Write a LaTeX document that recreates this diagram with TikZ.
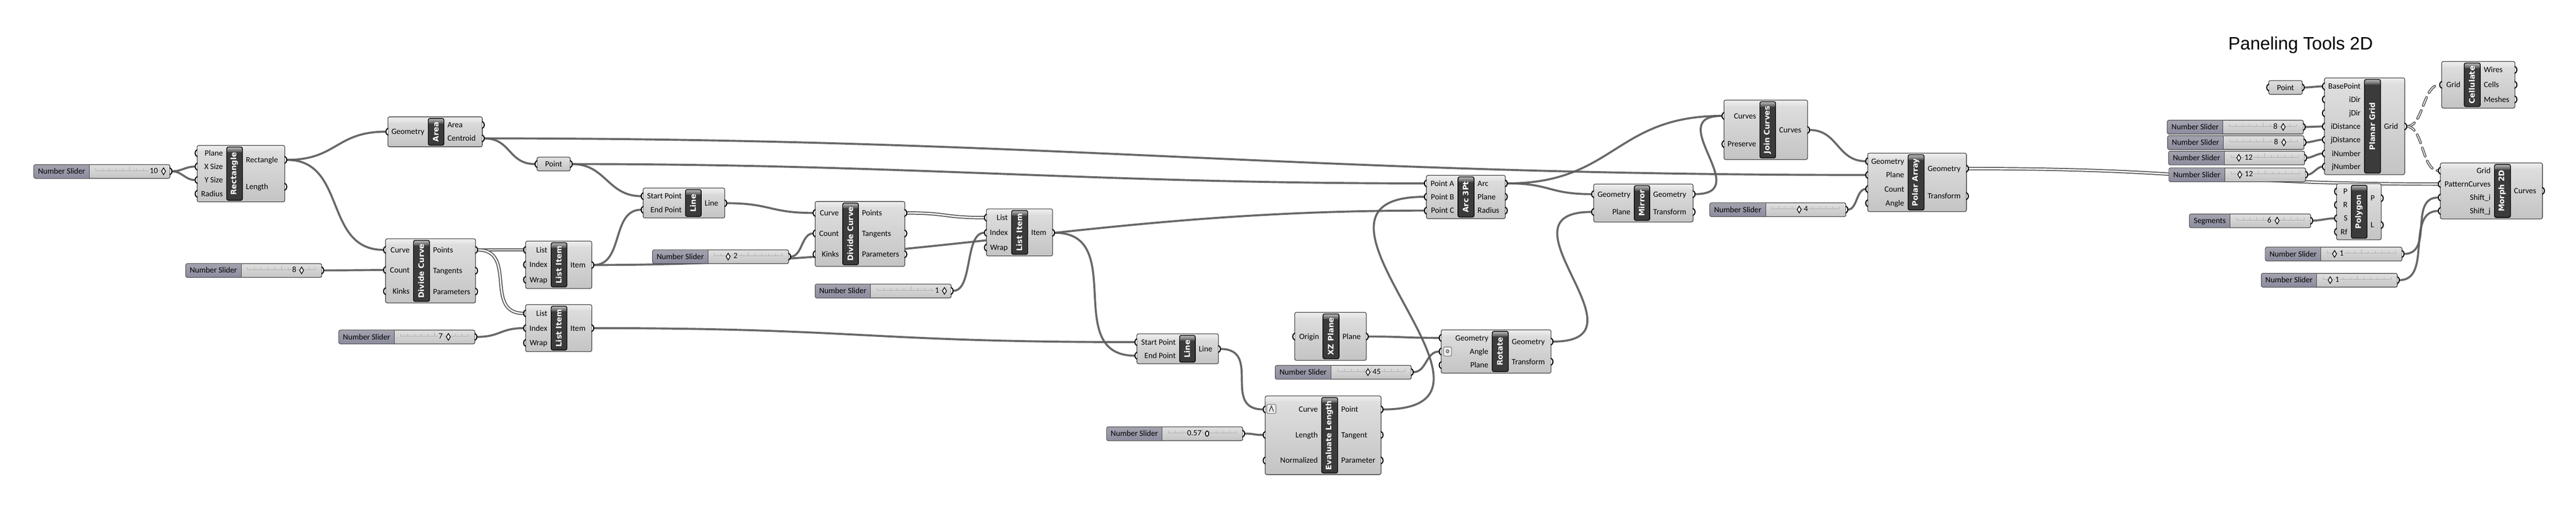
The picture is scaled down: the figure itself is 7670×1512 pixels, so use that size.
\documentclass[tikz,border=0pt]{standalone}
\usepackage{fontspec}
\setmainfont{Carlito}
\newfontfamily\ghbarfont{DejaVu Sans}
\newfontfamily\ghtitlefont{Liberation Sans}
\usetikzlibrary{shadings}
\pgfdeclarelayer{paper}
\pgfdeclarelayer{wires}
\pgfsetlayers{paper,wires,main}
\definecolor{gbot}{HTML}{C4C4C4}
\definecolor{gtop}{HTML}{E0E0E0}
\definecolor{gline}{HTML}{454545}
\definecolor{gwire}{HTML}{5C5C5C}
\definecolor{gbar}{HTML}{3B3B3B}
\definecolor{gpurtop}{HTML}{A2A2AE}
\definecolor{gpurbot}{HTML}{8C8CA0}
\definecolor{gval}{HTML}{D7D7D7}
\tikzset{
  ghbox/.style={draw=gline,line width=1pt,rounded corners=2.5pt,top color=gtop,bottom color=gbot,inner sep=0pt,outer sep=0pt},
  ghbar/.style={draw=black,line width=1pt,rounded corners=2.5pt,fill=gbar,inner sep=0pt,outer sep=0pt},
  ghbartext/.style={text=white,font=\ghbarfont\bfseries\fontsize{11.25}{12}\selectfont,rotate=90,inner sep=0pt},
  ghtext/.style={text=black,font=\fontsize{12}{13}\selectfont,inner sep=0pt},
  ghport/.style={draw=black,line width=1.6pt,fill=white,line cap=round},
  wire/.style={draw=gwire,line width=3pt,opacity=.92},
  listwire/.style={draw=gwire,line width=1.5pt,double=white,double distance=2pt},
  ghrail/.style={draw=black!32,line width=.5pt},
  ghgrip/.style={draw=black,line width=1pt,fill=white},
}
\newcommand\ghcomp[8]{%
  \def\cn{#1}\def\xa{#2}\def\xb{#4}\def\ba{#6}\def\bb{#7}%
  \node[ghbox,minimum width={(#4-#2)*0.5pt},minimum height={(#5-#3)*0.5pt}] (#1) at ({(#2+#4)/2},{(#3+#5)/2}) {};
  \shade[top color=white!93!black,bottom color=white!88!black,rounded corners=2pt]
     (#2+1.5,#3+17) -- (#2+1.5,#3+1.5) -- (#4-1.5,#3+1.5) [sharp corners] -- (#4-1.5,#3+17) -- cycle;
  \node[ghbar,minimum width={(#7-#6)*0.5pt},minimum height={(#5-#3-9)*0.5pt}] (#1-bar) at ({(#6+#7)/2},{(#3+#5)/2}) {};
  \shade[top color=black!30,bottom color=black!68,rounded corners=2pt]
     (#6+1.5,#3+20) -- (#6+1.5,#3+6) -- (#7-1.5,#3+6) [sharp corners] -- (#7-1.5,#3+20) -- cycle;
  \node[ghbartext] (#1-title) at ({(#6+#7)/2-1},{(#3+#5)/2}) {#8};
}
\newcommand\ghleft[2]{\draw[ghport] (#1,{#2-10}) .. controls (#1-8,{#2-7}) and (#1-8,{#2+7}) .. (#1,{#2+10});}
\newcommand\ghright[2]{\draw[ghport] (#1,{#2-10}) .. controls (#1+8,{#2-7}) and (#1+8,{#2+7}) .. (#1,{#2+10});}
\newcommand\inp[3]{%
  \ghleft{\xa}{#2}
  \coordinate (\cn-#1) at (\xa-6,#2);
  \node[ghtext,anchor=base east] (\cn-#1-l) at (\ba-11,#2+8) {#3};
}
\newcommand\outp[3]{%
  \ghright{\xb}{#2}
  \coordinate (\cn-#1) at (\xb+6,#2);
  \node[ghtext,anchor=base west] (\cn-#1-l) at (\bb+10,#2+8) {#3};
}
\newcommand\ghparam[6]{% name x0 y0 x1 y1 label
  \node[ghbox,minimum width={(#4-#2)*0.5pt},minimum height={(#5-#3)*0.5pt}] (#1) at ({(#2+#4)/2},{(#3+#5)/2}) {};
  \ghleft{#2}{(#3+#5)/2}
  \ghright{#4}{(#3+#5)/2}
  \coordinate (#1-in) at (#2-6,{(#3+#5)/2});
  \coordinate (#1-out) at (#4+6,{(#3+#5)/2});
  \node[ghtext,anchor=base] (#1-l) at ({(#2+#4)/2},{(#3+#5)/2+8}) {#6};
}
\newcommand\ghslider[6]{% name x0 y0 x1 split label
  \def\cn{#1}\def\sy{#3}%
  \node[ghbox,minimum width={(#4-#2)*0.5pt},minimum height=20.5pt] (#1) at ({(#2+#4)/2},{#3+20.5}) {};
  \shade[top color=gpurtop,bottom color=gpurbot,rounded corners=2pt]
     (#5,#3+40) -- (#2+1,#3+40) -- (#2+1,#3+1) [sharp corners] -- (#5,#3+1) -- cycle;
  \draw[draw=gline,line width=.75pt] (#5,#3) -- (#5,#3+41);
  \node[ghtext,anchor=base] (#1-l) at ({(#2+#5)/2},{#3+28}) {#6};
  \draw[ghrail] (#5+19,#3+18) -- (#4-19,#3+18);
  \foreach \i in {0,...,10} {\draw[ghrail] ({#5+19+\i*(#4-#5-38)/10},#3+18) -- ++(0,{\i==5?-12:-7});}
  \ghright{#4}{#3+20}
  \coordinate (#1-out) at (#4+6,#3+20);
}
\newcommand\ghval[3]{% value xcentre gripx
  \node[ghtext,anchor=base,fill=gval,inner sep=.5pt] (\cn-v) at (#2,\sy+26) {#1};
  \draw[ghgrip] (#3-6,\sy+20) -- (#3,\sy+10) -- (#3+6,\sy+20) -- (#3,\sy+30) -- cycle;
}
\newcommand\ghvalo[3]{%
  \node[ghtext,anchor=base,fill=gval,inner sep=.5pt] (\cn-v) at (#2,\sy+26) {#1};
  \draw[ghgrip,line width=1.2pt] (#3,\sy+20) ellipse [x radius=5,y radius=8];
}
\newcommand\ghwire[3]{\draw[wire] (#1) .. controls +(#3,0) and +(-#3,0) .. (#2);}
\newcommand\ghlist[3]{\draw[listwire] (#1) .. controls +(#3,0) and +(-#3,0) .. (#2);}
\newcommand\ghdash[3]{%
  \draw[draw=gwire,line width=4pt,line cap=round,dash pattern=on 13pt off 8pt] (#1) .. controls +(#3,0) and +(-#3,0) .. (#2);
  \draw[draw=white,line width=1.2pt,line cap=round,dash pattern=on 13pt off 8pt] (#1) .. controls +(#3,0) and +(-#3,0) .. (#2);
}
\begin{document}
\begin{tikzpicture}[x=0.5pt,y=-0.5pt]
\begin{pgfonlayer}{paper}
\fill[white] (0,0) rectangle (7670,1512);
\end{pgfonlayer}
\useasboundingbox (0,0) rectangle (7670,1512);

\node[font=\ghtitlefont\fontsize{26.7}{28}\selectfont,inner sep=0pt,anchor=base] (title) at (6850,148) {Paneling Tools 2D};

% components
\ghcomp{rect}{587}{433}{848}{601}{675}{722}{Rectangle}
\inp{plane}{456}{Plane}\inp{xs}{496}{X Size}\inp{ys}{536}{Y Size}\inp{rad}{577}{Radius}
\outp{rect}{476}{Rectangle}\outp{len}{556}{Length}

\ghcomp{area}{1155}{348}{1436}{437}{1275}{1322}{Area}
\inp{geo}{392}{Geometry}\outp{area}{372}{Area}\outp{cen}{412}{Centroid}

\ghcomp{dca}{1148}{711}{1416}{902}{1231}{1279}{Divide Curve}
\inp{crv}{744}{Curve}\inp{cnt}{804}{Count}\inp{knk}{867}{Kinks}
\outp{pts}{744}{Points}\outp{tan}{806}{Tangents}\outp{par}{868}{Parameters}

\ghcomp{lia}{1565}{718}{1762}{859}{1641}{1688}{List Item}
\inp{list}{744}{List}\inp{idx}{788}{Index}\inp{wrap}{833}{Wrap}\outp{item}{789}{Item}

\ghcomp{lib}{1565}{907}{1762}{1047}{1641}{1688}{List Item}
\inp{list}{933}{List}\inp{idx}{977}{Index}\inp{wrap}{1021}{Wrap}\outp{item}{977}{Item}

\ghcomp{lna}{1915}{560}{2158}{649}{2041}{2088}{Line}
\inp{s}{584}{Start Point}\inp{e}{624.5}{End Point}\outp{l}{605}{Line}

\ghcomp{dcb}{2427}{600}{2694}{793}{2509}{2556}{Divide Curve}
\inp{crv}{634}{Curve}\inp{cnt}{695}{Count}\inp{knk}{757}{Kinks}
\outp{pts}{634}{Points}\outp{tan}{695}{Tangents}\outp{par}{757}{Parameters}

\ghcomp{lic}{2937}{622}{3134}{762}{3012}{3060}{List Item}
\inp{list}{648}{List}\inp{idx}{693}{Index}\inp{wrap}{737}{Wrap}\outp{item}{693}{Item}

\ghcomp{lnb}{3385}{994}{3628}{1083}{3512}{3559}{Line}
\inp{s}{1018.6}{Start Point}\inp{e}{1059}{End Point}\outp{l}{1039}{Line}

\ghcomp{xz}{3855}{930}{4068}{1073}{3939}{3987}{XZ Plane}
\inp{o}{1002}{Origin}\outp{p}{1002}{Plane}

\ghcomp{rot}{4291}{982}{4618}{1111}{4443}{4491}{Rotate}
\inp{g}{1006}{Geometry}\inp{a}{1046.6}{Angle}\inp{p}{1087}{Plane}
\outp{g2}{1017}{Geometry}\outp{x}{1077}{Transform}
\draw[draw=black!60,line width=.75pt,rounded corners=1.5pt,fill=black!8] (4298,1033) rectangle (4322,1060);
\draw[draw=black!55,line width=1.5pt] (4310,1046) ellipse [x radius=3.5,y radius=4.5];

\ghcomp{ev}{3767}{1179}{4112}{1413}{3935}{3983}{Evaluate Length}
\inp{c}{1219}{Curve}\inp{len}{1295}{Length}\inp{n}{1371}{Normalized}
\outp{p}{1219}{Point}\outp{t}{1295}{Tangent}\outp{u}{1371}{Parameter}
\draw[draw=black!60,line width=.75pt,rounded corners=1.5pt,fill=black!8] (3772,1204) rectangle (3799,1231);
\draw[draw=black!70,line width=1.2pt] (3779,1225) -- (3785.5,1209) -- (3792,1225);

\ghcomp{arc}{4247}{522}{4482}{651}{4341}{4389}{Arc 3Pt}
\inp{a}{546}{Point A}\inp{b}{586}{Point B}\inp{c}{627}{Point C}
\outp{arc}{546}{Arc}\outp{pl}{586}{Plane}\outp{r}{627}{Radius}

\ghcomp{mir}{4745}{548}{5041}{661}{4866}{4912}{Mirror}
\inp{g}{578}{Geometry}\inp{p}{631}{Plane}\outp{g2}{578}{Geometry}\outp{x}{631}{Transform}

\ghcomp{jc}{5133}{298}{5382}{475}{5240}{5287}{Join Curves}
\inp{c}{345}{Curves}\inp{p}{429}{Preserve}\outp{c2}{387}{Curves}

\ghcomp{pa}{5561}{456}{5855}{630}{5681}{5729}{Polar Array}
\inp{g}{480}{Geometry}\inp{p}{521}{Plane}\inp{c}{563}{Count}\inp{a}{605}{Angle}
\outp{g2}{502}{Geometry}\outp{x}{584}{Transform}

\ghcomp{pg}{6921}{232}{7160}{520}{7040}{7088}{Planar Grid}
\inp{bp}{257}{BasePoint}\inp{id}{296}{iDir}\inp{jd}{337}{jDir}\inp{idist}{376.5}{iDistance}
\inp{jdist}{416}{jDistance}\inp{inum}{457}{iNumber}\inp{jnum}{496}{jNumber}
\outp{grid}{376.5}{Grid}

\ghcomp{cel}{7270}{183}{7488}{322}{7337}{7385}{Cellulate}
\inp{grid}{252.5}{Grid}\outp{w}{208}{Wires}\outp{c}{252.5}{Cells}\outp{m}{296}{Meshes}

\ghcomp{mor}{7266}{485}{7570}{652}{7427}{7475}{Morph 2D}
\inp{grid}{508}{Grid}\inp{pc}{548}{PatternCurves}\inp{si}{588}{Shift\_i}\inp{sj}{628}{Shift\_j}
\outp{c}{568}{Curves}

\ghcomp{poly}{6957}{547}{7090}{714}{7001}{7048}{Polygon}
\inp{p}{570}{P}\inp{r}{610}{R}\inp{s}{650}{S}\inp{rf}{690}{Rf}
\outp{p2}{590}{P}\outp{l}{670}{L}

% parameters
\ghparam{pta}{1599}{468}{1698}{509}{Point}
\ghparam{ptb}{6755}{240}{6855}{281}{Point}

% sliders
\ghslider{sa}{101}{490}{506}{266}{Number Slider}\ghval{10}{458}{487}
\ghslider{sb}{553}{785}{958}{718}{Number Slider}\ghval{8}{876}{898}
\ghslider{sc}{1009}{983}{1414}{1174}{Number Slider}\ghval{7}{1312}{1335}
\ghslider{sd}{1943}{744}{2348}{2108}{Number Slider}\ghval{2}{2190}{2168}
\ghslider{se}{2427}{846}{2832}{2592}{Number Slider}\ghval{1}{2790}{2812}
\ghslider{sf}{3797}{1088}{4202}{3963}{Number Slider}\ghval{45}{4099}{4073}
\ghslider{sg}{3295}{1271}{3700}{3460}{Number Slider}\ghvalo{0.57}{3556}{3594}
\ghslider{sh}{5091}{604}{5496}{5257}{Number Slider}\ghval{4}{5377}{5357}
\ghslider{si}{6453}{358}{6858}{6619}{Number Slider}\ghval{8}{6775}{6798}
\ghslider{sj}{6454}{404}{6860}{6620}{Number Slider}\ghval{8}{6777}{6800}
\ghslider{sk}{6457}{450}{6862}{6623}{Number Slider}\ghval{12}{6695}{6666}
\ghslider{sl}{6458}{500}{6865}{6624}{Number Slider}\ghval{12}{6696}{6669}
\ghslider{sm}{6519}{637}{6880}{6640}{Segments}\ghval{6}{6757}{6780}
\ghslider{sn}{6745}{736}{7152}{6910}{Number Slider}\ghval{1}{6972}{6951}
\ghslider{so}{6733}{814}{7138}{6898}{Number Slider}\ghval{1}{6959}{6938}

% connectors
\begin{pgfonlayer}{wires}
\ghwire{sa-out}{rect-xs}{30}
\ghwire{sa-out}{rect-ys}{30}
\ghwire{rect-rect}{area-geo}{150}
\ghwire{rect-rect}{dca-crv}{180}
\ghwire{sb-out}{dca-cnt}{60}
\ghlist{dca-pts}{lia-list}{60}
\ghlist{dca-pts}{lib-list}{120}
\ghwire{sc-out}{lib-idx}{70}
\ghwire{area-cen}{pta-in}{80}
\ghwire{area-cen}{pa-p}{1700}
\ghwire{pta-out}{lna-s}{100}
\ghwire{pta-out}{arc-a}{1000}
\ghwire{lia-item}{lna-e}{90}
\ghwire{lia-item}{arc-c}{1000}
\ghwire{lna-l}{dcb-crv}{130}
\ghwire{sd-out}{dcb-cnt}{35}
\ghlist{dcb-pts}{lic-list}{120}
\ghwire{se-out}{lic-idx}{60}
\ghwire{lib-item}{lnb-s}{800}
\ghwire{lic-item}{lnb-e}{220}
\ghwire{lnb-l}{ev-c}{125}
\ghwire{sg-out}{ev-len}{30}
\ghwire{ev-p}{arc-b}{467}
\ghwire{xz-p}{rot-g}{110}
\ghwire{sf-out}{rot-a}{40}
\ghwire{rot-g2}{mir-p}{300}
\ghwire{arc-arc}{jc-c}{320}
\ghwire{arc-arc}{mir-g}{130}
\ghwire{mir-g2}{jc-c}{180}
\ghwire{jc-c2}{pa-g}{85}
\ghwire{sh-out}{pa-c}{28}
\ghlist{pa-g2}{mor-pc}{700}
\ghwire{ptb-out}{pg-bp}{15}
\ghwire{si-out}{pg-idist}{15}
\ghwire{sj-out}{pg-jdist}{15}
\ghwire{sk-out}{pg-inum}{15}
\ghwire{sl-out}{pg-jnum}{15}
\ghwire{sm-out}{poly-s}{20}
\ghwire{sn-out}{mor-si}{90}
\ghwire{so-out}{mor-sj}{100}
\ghdash{pg-grid}{cel-grid}{50}
\ghdash{pg-grid}{mor-grid}{50}
\end{pgfonlayer}
\end{tikzpicture}
\end{document}
